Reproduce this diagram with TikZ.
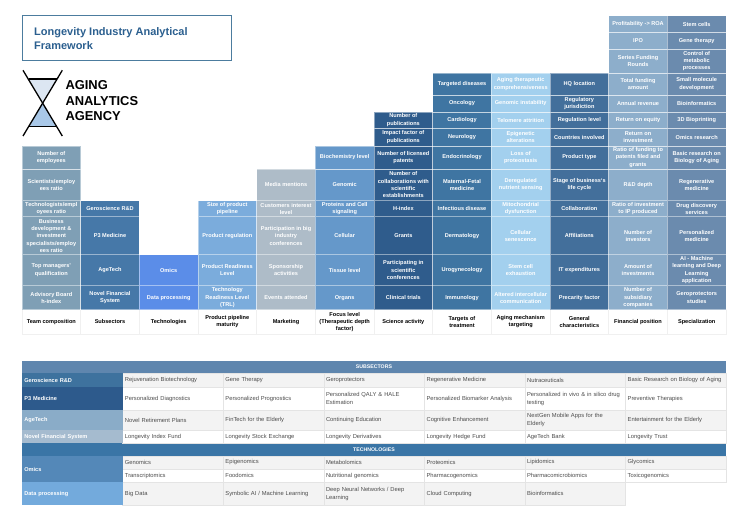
\documentclass[tikz,border=0pt]{standalone}
\usepackage{fontspec}
\setmainfont{Liberation Sans}
\definecolor{teamcol}{HTML}{7F9FB5}
\definecolor{subcol}{HTML}{4678A8}
\definecolor{techcol}{HTML}{5B8DE8}
\definecolor{pipecol}{HTML}{7BACDC}
\definecolor{markcol}{HTML}{AEBCC8}
\definecolor{focuscol}{HTML}{6598CA}
\definecolor{sciencecol}{HTML}{2F5C8C}
\definecolor{targetcol}{HTML}{3F75A2}
\definecolor{agingcol}{HTML}{A3D0EE}
\definecolor{generalcol}{HTML}{436F9B}
\definecolor{financecol}{HTML}{8DAECB}
\definecolor{specialcol}{HTML}{6B8BAE}
\definecolor{framecol}{HTML}{4C7C9E}
\definecolor{titlecol}{HTML}{2B5F8F}
\definecolor{subhead}{HTML}{5F86AE}
\definecolor{techhead}{HTML}{3A75A6}
\definecolor{tabgrey}{HTML}{F3F3F3}
\definecolor{tabline}{HTML}{E4E4E4}
\definecolor{logotop}{HTML}{DCE6F2}
\definecolor{logobot}{HTML}{A9C8E8}
\tikzset{
  cellbox/.style={draw=white,draw opacity=.45,line width=.7pt,inner sep=0pt,minimum width=58.67pt,
    align=center,text=white,font=\fontsize{5.6}{7.3}\selectfont\bfseries},
  footbox/.style={draw=black!6,fill=white,line width=.6pt,inner sep=0pt,minimum width=58.67pt,minimum height=24.3pt,
    align=center,text=black,font=\fontsize{5.6}{7.3}\selectfont\bfseries},
  headbox/.style={inner sep=0pt,minimum width=703.7pt,align=center,text=white,
    font=\fontsize{5.2}{6}\selectfont\bfseries},
  sidebox/.style={inner xsep=2pt,inner ysep=0pt,text width=96.4pt,align=left,text=white,
    font=\fontsize{5.6}{7.3}\selectfont\bfseries},
  tabbox/.style={draw=tabline,line width=.4pt,inner xsep=2.3pt,inner ysep=0pt,text width=96.1pt,align=left,text=black!70,
    font=\fontsize{5.8}{8.2}\selectfont}
}
\def\rowedge{{309.7,285.7,254.7,216.7,200.7,169,146,128,112,95,73,49.3,32.3,15.7}}
\begin{document}
\begin{tikzpicture}[x=1pt,y=-1pt]
\useasboundingbox (0,0) rectangle (750,532);
% title
\node[draw=framecol,line width=1.3pt,minimum width=209pt,minimum height=45pt,inner sep=0pt] (titlebox) at (127,38.3) {};
\node[anchor=west,inner sep=0pt,align=left,text=titlecol,font=\fontsize{11}{14}\selectfont\bfseries] (title) at (34,38.8) {Longevity Industry Analytical\\Framework};
% logo
\fill[logotop] (29.3,79) -- (56.7,79) -- (42.5,103) -- cycle;
\fill[logobot] (29.3,126.7) -- (56.7,126.7) -- (42.5,103) -- cycle;
\draw[line width=1.3pt] (23,70.3) -- (62.3,136);
\draw[line width=1.3pt] (62.3,70.3) -- (23,136);
\draw[line width=1.3pt] (29.3,79) -- (56.7,79);
\draw[line width=1.3pt] (29.3,126.7) -- (56.7,126.7);
\node[anchor=north west,inner sep=0pt,align=left,font=\fontsize{12.9}{15.5}\selectfont\bfseries] (agency) at (65.3,80.5) {AGING\\ANALYTICS\\AGENCY};
% columns, cells listed from the bottom row upwards
\foreach \cname/\cfill/\foot/\cells [count=\c from 0] in {
  team/teamcol/{Team composition}/{Advisory Board\\h-index,Top managers'\\qualification,Business\\development \&\\investment\\specialists/employ\\ees ratio,Technologists/empl\\oyees ratio,Scientists/employ\\ees ratio,Number of\\employees},
  sub/subcol/{Subsectors}/{Novel Financial\\System,AgeTech,P3 Medicine,Geroscience R\&D},
  tech/techcol/{Technologies}/{Data processing,Omics},
  pipe/pipecol/{Product pipeline\\maturity}/{Technology\\Readiness Level\\(TRL),Product Readiness\\Level,Product regulation,Size of product\\pipeline},
  mark/markcol/{Marketing}/{Events attended,Sponsorship\\activities,Participation in big\\industry\\conferences,Customers interest\\level,Media mentions},
  focus/focuscol/{Focus level\\(Therapeutic depth\\factor)}/{Organs,Tissue level,Cellular,Proteins and Cell\\signaling,Genomic,Biochemistry level},
  science/sciencecol/{Science activity}/{Clinical trials,Participating in\\scientific\\conferences,Grants,H-index,Number of\\collaborations with\\scientific\\establishments,Number of licensed\\patents,Impact factor of\\publications,Number of\\publications},
  target/targetcol/{Targets of\\treatment}/{Immunology,Urogynecology,Dermatology,Infectious disease,Maternal-Fetal\\medicine,Endocrinology,Neurology,Cardiology,Oncology,Targeted diseases},
  aging/agingcol/{Aging mechanism\\targeting}/{Altered intercellular\\communication,Stem cell\\exhaustion,Cellular\\senescence,Mitochondrial\\dysfunction,Deregulated\\nutrient sensing,Loss of\\proteostasis,Epigenetic\\alterations,Telomere attrition,Genomic instability,Aging therapeutic\\comprehensiveness},
  general/generalcol/{General\\characteristics}/{Precarity factor,IT expenditures,Affiliations,Collaboration,Stage of business`s\\life cycle,Product type,Countries involved,Regulation level,Regulatory\\jurisdiction,HQ location},
  finance/financecol/{Financial position}/{Number of\\subsidiary\\companies,Amount of\\investments,Number of\\investors,Ratio of investment\\to IP produced,R\&D depth,Ratio of funding to\\patents filed and\\grants,Return on\\investment,Return on equity,Annual revenue,Total funding\\amount,Series Funding\\Rounds,IPO,Profitability -> ROA},
  special/specialcol/{Specialization}/{Geroprotectors\\studies,AI - Machine\\learning and Deep\\Learning\\application,Personalized\\medicine,Drug discovery\\services,Regenerative\\medicine,Basic research on\\Biology of Aging,Omics research,3D Bioprinting,Bioinformatics,Small molecule\\development,Control of\\metabolic\\processes,Gene therapy,Stem cells}}
{
  \pgfmathsetmacro\xcol{22+58.67*\c+29.33}
  \node[footbox] (\cname-foot) at (\xcol,321.9) {\foot};
  \foreach \txt [count=\r from 0] in \cells {
    \pgfmathsetmacro\ybot{\rowedge[\r]}
    \pgfmathsetmacro\ytop{\rowedge[\r+1]}
    \pgfmathsetmacro\hcell{\ybot-\ytop}
    \node[cellbox,fill=\cfill,minimum height=\hcell pt] (\cname-\r) at (\xcol,{(\ybot+\ytop)/2}) {\txt};
  }
}
% table
\node[headbox,fill=subhead,minimum height=12.3pt] (subsectors) at (374,367.2) {SUBSECTORS};
\node[headbox,fill=techhead,minimum height=12.4pt] (technologies) at (374,449.5) {TECHNOLOGIES};
\foreach \rname/\ytop/\ybot/\rfill/\cells in {
  gero/373.3/387.3/tabgrey/{Rejuvenation Biotechnology,Gene Therapy,Geroprotectors,Regenerative Medicine,Nutraceuticals,Basic Research on Biology of Aging},
  pthree/387.3/410/white/{Personalized Diagnostics,Personalized Prognostics,Personalized QALY \& HALE\\Estimation,Personalized Biomarker Analysis,Personalized in vivo \& in silico drug\\testing,Preventive Therapies},
  agetech/410/430/tabgrey/{Novel Retirement Plans,FinTech for the Elderly,Continuing Education,Cognitive Enhancement,NextGen Mobile Apps for the\\Elderly,Entertainment for the Elderly},
  novel/430/443.3/white/{Longevity Index Fund,Longevity Stock Exchange,Longevity Derivatives,Longevity Hedge Fund,AgeTech Bank,Longevity Trust},
  omicsa/455.7/469/tabgrey/{Genomics,Epigenomics,Metabolomics,Proteomics,Lipidomics,Glycomics},
  omicsb/469/482.3/white/{Transcriptomics,Foodomics,Nutritional genomics,Pharmacogenomics,Pharmacomicrobiomics,Toxicogenomics},
  data/482.3/505.3/tabgrey/{Big Data,Symbolic AI / Machine Learning,Deep Neural Networks / Deep\\Learning,Cloud Computing,Bioinformatics}}
{
  \foreach \txt [count=\k from 0] in \cells {
    \pgfmathsetmacro\xcell{122.7+100.55*\k+50.27}
    \pgfmathsetmacro\hcell{\ybot-\ytop}
    \node[tabbox,fill=\rfill,minimum height=\hcell pt] (\rname-\k) at (\xcell,{(\ybot+\ytop)/2}) {\txt};
  }
}
\foreach \sname/\ytop/\ybot/\sfill/\txt in {
  gerohead/373.3/387.3/3E729E/Geroscience R\&D,
  pthreehead/387.3/410/2D5A8C/P3 Medicine,
  agetechhead/410/430/8AACC8/AgeTech,
  novelhead/430/443.3/A5BBCF/Novel Financial System,
  omicshead/455.7/482.3/5488B8/Omics,
  datahead/482.3/505.3/73AADC/Data processing}
{
  \definecolor{sidefill}{HTML}{\sfill}
  \pgfmathsetmacro\hcell{\ybot-\ytop}
  \node[sidebox,fill=sidefill,minimum height=\hcell pt] (\sname) at (72.5,{(\ybot+\ytop)/2}) {\txt};
}
\end{tikzpicture}
\end{document}
